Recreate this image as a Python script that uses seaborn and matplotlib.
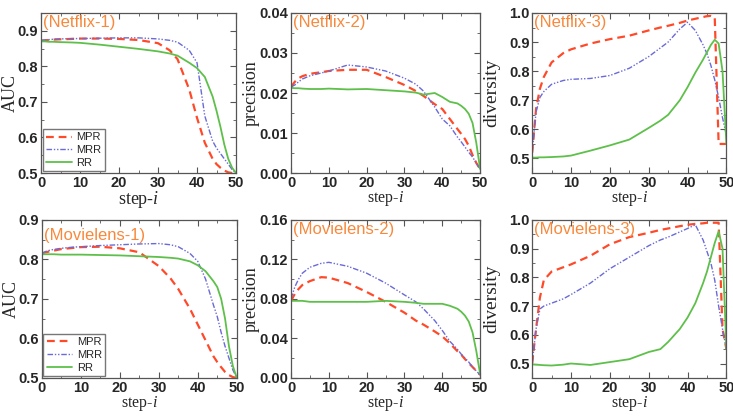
import matplotlib
matplotlib.use("Agg")
import matplotlib.pyplot as plt
import seaborn as sns
from matplotlib.ticker import MultipleLocator, FormatStrFormatter

## Dados (passos comuns a todas as curvas)
steps = [0, 1, 2, 3, 5, 8, 10, 15, 20, 25, 30, 33, 35, 38, 40, 42, 44, 45, 46, 47, 48, 49, 50]

# Netflix - AUC
nf_auc_mpr = [.872, .873, .874, .875, .876, .877, .878, .878, .877, .874, .865, .845, .820, .735, .655, .585, .540, .525, .515, .507, .502, .500, .500]
nf_auc_mrr = [.873, .874, .875, .876, .877, .878, .878, .879, .880, .880, .877, .873, .868, .845, .810, .660, .590, .570, .555, .540, .525, .510, .500]
nf_auc_rr = [.870, .870, .869, .869, .868, .867, .866, .861, .855, .849, .842, .836, .830, .810, .795, .770, .715, .675, .630, .580, .540, .515, .500]
# Netflix - precision
nf_prec_mpr = [.0215, .0228, .0237, .0242, .0248, .0252, .0255, .0258, .0258, .0240, .0220, .0205, .0193, .0172, .0160, .0135, .0110, .0098, .0085, .0068, .0045, .0025, .0010]
nf_prec_mrr = [.0215, .0220, .0228, .0235, .0243, .0250, .0255, .0270, .0265, .0255, .0237, .0222, .0205, .0165, .0135, .0118, .0090, .0078, .0065, .0052, .0040, .0025, .0010]
nf_prec_rr = [.0213, .0212, .0212, .0211, .0210, .0210, .0211, .0209, .0210, .0207, .0204, .0201, .0196, .0200, .0190, .0178, .0174, .0168, .0160, .0148, .0125, .0075, .0010]
# Netflix - diversity
nf_div_mpr = [.52, .67, .74, .78, .83, .862, .875, .895, .910, .922, .940, .950, .956, .966, .974, .980, .986, .989, .990, .985, .550, .550, .550]
nf_div_mrr = [.52, .66, .71, .73, .755, .768, .772, .775, .785, .810, .850, .880, .900, .945, .968, .940, .890, .860, .820, .770, .710, .640, .580]
nf_div_rr = [.503, .503, .504, .504, .505, .507, .510, .527, .545, .565, .605, .630, .650, .700, .745, .795, .840, .865, .890, .908, .895, .800, .550]

# Movielens - AUC
ml_auc_mpr = [.815, .818, .820, .822, .826, .829, .831, .832, .828, .818, .783, .752, .725, .675, .635, .595, .555, .540, .527, .515, .507, .502, .500]
ml_auc_mrr = [.815, .820, .823, .825, .828, .831, .832, .835, .837, .839, .840, .837, .832, .815, .795, .750, .685, .655, .615, .580, .550, .520, .500]
ml_auc_rr = [.813, .813, .813, .813, .812, .812, .812, .811, .810, .808, .806, .804, .802, .795, .785, .770, .745, .730, .700, .650, .580, .530, .500]
# Movielens - precision
ml_prec_mpr = [.078, .085, .090, .094, .098, .102, .1015, .096, .087, .077, .066, .058, .054, .047, .042, .035, .027, .0235, .019, .015, .011, .007, .003]
ml_prec_mrr = [.080, .092, .100, .106, .112, .116, .117, .113, .106, .096, .084, .077, .070, .058, .048, .037, .029, .024, .020, .016, .011, .007, .003]
ml_prec_rr = [.078, .078, .078, .078, .077, .077, .077, .077, .077, .078, .077, .076, .075, .075, .075, .073, .070, .067, .063, .057, .046, .027, .004]
# Movielens - diversity
ml_div_mpr = [.50, .62, .73, .79, .82, .835, .845, .875, .915, .940, .955, .965, .970, .978, .983, .986, .988, .990, .990, .990, .990, .620, .550]
ml_div_mrr = [.50, .62, .69, .70, .71, .725, .740, .780, .830, .870, .910, .930, .940, .958, .970, .983, .930, .890, .850, .790, .700, .620, .550]
ml_div_rr = [.497, .496, .495, .494, .493, .496, .500, .495, .505, .515, .540, .550, .575, .620, .660, .710, .780, .820, .870, .920, .960, .900, .550]

methods = ['MPR', 'MRR', 'RR']
titles = ['(Netflix-1)', '(Netflix-2)', '(Netflix-3)', '(Movielens-1)', '(Movielens-2)', '(Movielens-3)']

## Estilo
sns.set_theme(style="ticks")
plt.rcParams['font.family'] = ['Liberation Sans', 'DejaVu Sans']
plt.rcParams['mathtext.fontset'] = 'custom'
plt.rcParams['mathtext.it'] = 'Liberation Serif:italic'
plt.rcParams['mathtext.rm'] = 'Liberation Serif'

cores = {'MPR': '#ff4a2a', 'MRR': '#6a6ad8', 'RR': '#5ec04a'}
tracos = {'MPR': (0, (3.5, 2.2)), 'MRR': (0, (4, 1.3, 1, 1.3, 1, 1.3)), 'RR': '-'}
espessuras = {'MPR': 1.6, 'MRR': 1.0, 'RR': 1.3}

paineis = [
    ([nf_auc_mpr, nf_auc_mrr, nf_auc_rr], 'AUC', (0.5, 0.95), 0.1, '%.1f', 13),
    ([nf_prec_mpr, nf_prec_mrr, nf_prec_rr], 'precision', (0.0, 0.04), 0.01, '%.2f', 13),
    ([nf_div_mpr, nf_div_mrr, nf_div_rr], 'diversity', (0.45, 1.0), 0.1, '%.1f', 14),
    ([ml_auc_mpr, ml_auc_mrr, ml_auc_rr], 'AUC', (0.5, 0.9), 0.1, '%.1f', 13),
    ([ml_prec_mpr, ml_prec_mrr, ml_prec_rr], 'precision', (0.0, 0.16), 0.04, '%.2f', 13),
    ([ml_div_mpr, ml_div_mrr, ml_div_rr], 'diversity', (0.45, 1.0), 0.1, '%.1f', 14),
]

lefts = [[0.056, 0.397, 0.726], [0.057, 0.397, 0.726]]
widths = [0.266, 0.258, 0.265]
bottoms = [0.586, 0.096]
heights = [0.383, 0.378]

fig = plt.figure(figsize=(7.33, 4.18), dpi=100)

for k, (series, ylab, ylim, major, fmt, ysize) in enumerate(paineis):
    row, col = divmod(k, 3)
    ax = fig.add_axes([lefts[row][col], bottoms[row], widths[col], heights[row]])

    for nome, vals in zip(methods, series):
        sns.lineplot(x=steps, y=vals, ax=ax, color=cores[nome], linestyle=tracos[nome],
                     linewidth=espessuras[nome], label=nome)

    ax.set_xlim(0, 50)
    ax.set_ylim(*ylim)
    ax.xaxis.set_major_locator(MultipleLocator(10))
    ax.xaxis.set_minor_locator(MultipleLocator(5))
    ax.yaxis.set_major_locator(MultipleLocator(major))
    ax.yaxis.set_minor_locator(MultipleLocator(major / 2))
    ax.yaxis.set_major_formatter(FormatStrFormatter(fmt))
    ax.tick_params(which='both', direction='in', top=True, right=True, color='#555555')
    ax.tick_params(which='major', length=4, width=0.8, labelsize=10.5, pad=2)
    ax.tick_params(which='minor', length=2, width=0.6)
    for lab in ax.get_xticklabels() + ax.get_yticklabels():
        lab.set_fontweight('bold')
    for sp in ax.spines.values():
        sp.set_color('#555555')
        sp.set_linewidth(0.9)

    xsize = 13 if k == 0 else 11.5
    ax.set_xlabel(r'step-$i$', fontsize=xsize, family='Liberation Serif')
    ax.set_ylabel(ylab, fontsize=ysize, family='Liberation Serif')
    ax.xaxis.set_label_coords(0.5, -0.1)
    ax.xaxis.label.set_va('top')
    ax.yaxis.set_label_coords(-0.112 if col == 0 else -0.165, 0.5)

    ty = 0.95 if k == 3 else 0.985
    ax.text(0.012, ty, titles[k], transform=ax.transAxes, ha='left', va='top',
            fontsize=12, color='#f8893c')

    if col == 0:
        ax.legend(loc='lower left', fontsize=8, frameon=True, fancybox=False,
                  edgecolor='#777777', framealpha=1, borderaxespad=0.15,
                  handlelength=2.3, handletextpad=0.4, labelspacing=0.25,
                  borderpad=0.3)
    else:
        leg = ax.get_legend()
        if leg is not None:
            leg.remove()

plt.savefig("out.png", dpi=100)
